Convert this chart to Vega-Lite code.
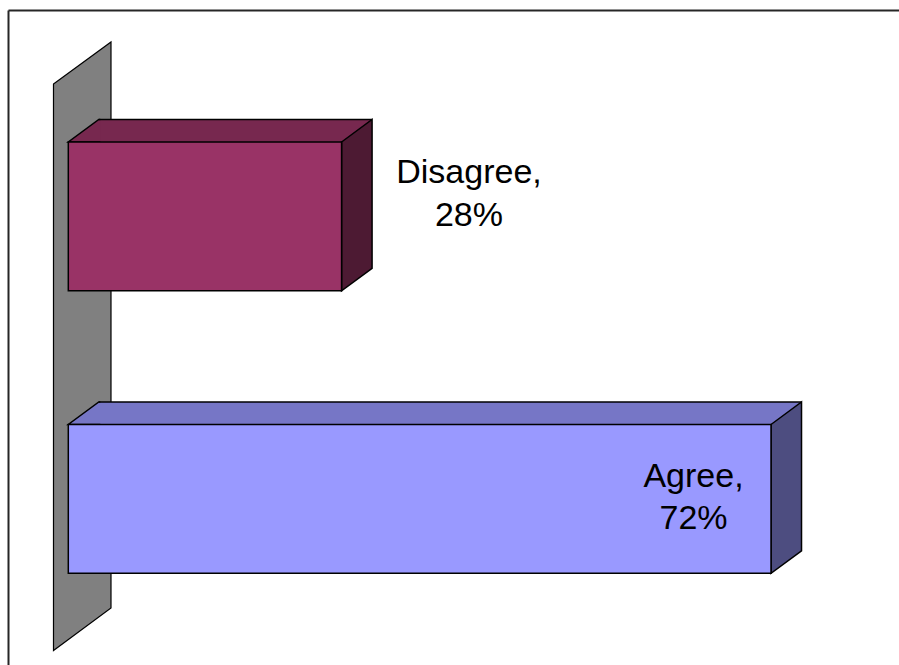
{
  "$schema": "https://vega.github.io/schema/vega-lite/v6.json",
  "width": 891,
  "height": 655,
  "autosize": "none",
  "padding": {"left": 8, "top": 10, "right": 0, "bottom": 0},
  "background": "white",
  "config": {
    "view": {"stroke": null},
    "axis": {"domainColor": "#262626", "domainWidth": 2, "ticks": false, "labels": false, "grid": false}
  },
  "data": {
    "values": [
      {"category": "Disagree", "value": 28, "label": "Disagree,\n28%"},
      {"category": "Agree", "value": 72, "label": "Agree,\n72%"}
    ]
  },
  "encoding": {
    "y": {
      "field": "category",
      "type": "nominal",
      "scale": {"type": "band", "domain": ["Disagree", "Agree"], "paddingInner": 0.4735, "paddingOuter": 0.396, "align": 0.59},
      "axis": {"orient": "left", "title": null}
    },
    "x": {
      "field": "value",
      "type": "quantitative",
      "scale": {"domain": [-6.178, 85.113], "nice": false, "zero": false},
      "axis": {"orient": "top", "title": null}
    }
  },
  "layer": [
    {
      "transform": [{"filter": "datum.category === 'Disagree'"}],
      "mark": {"type": "point", "shape": "M-14.8,-132.4L42.7,-174.4L42.7,391.6L-14.8,434.1Z", "size": 4, "filled": true, "fill": "#808080", "stroke": "#000000", "strokeWidth": 1.2, "opacity": 1},
      "encoding": {
        "x": {"datum": 0, "type": "quantitative", "axis": {"orient": "top", "title": null}}
      }
    },
    {
      "mark": {"type": "rule", "strokeWidth": 22.5, "strokeCap": "butt", "xOffset": 30.5, "x2Offset": 30.5, "yOffset": -85.65},
      "encoding": {
        "x2": {"datum": 0},
        "color": {"condition": {"test": "datum.category === 'Agree'", "value": "#7676C6"}, "value": "#77284F"}
      }
    },
    {
      "mark": {"type": "point", "shape": "M32,-74.4L0,-74.4L30.5,-96.9L32,-96.9", "size": 4, "filled": true, "stroke": "#000000", "strokeWidth": 1.5, "opacity": 1},
      "encoding": {
        "x": {"datum": 0, "type": "quantitative", "axis": {"orient": "top", "title": null}},
        "fill": {"condition": {"test": "datum.category === 'Agree'", "value": "#7676C6"}, "value": "#77284F"}
      }
    },
    {
      "mark": {"type": "rule", "color": "#000000", "strokeWidth": 1.5, "xOffset": 30.5, "x2Offset": 30.5, "yOffset": -96.9},
      "encoding": {"x2": {"datum": 0}}
    },
    {
      "mark": {"type": "point", "shape": "M0,-74.4L30.5,-96.9L30.5,51.9L0,74.4Z", "size": 4, "filled": true, "stroke": "#000000", "strokeWidth": 1.5, "opacity": 1},
      "encoding": {
        "fill": {"condition": {"test": "datum.category === 'Agree'", "value": "#4D4D80"}, "value": "#4D1A33"}
      }
    },
    {
      "mark": {"type": "bar", "stroke": "#000000", "strokeWidth": 1.5},
      "encoding": {
        "fill": {"condition": {"test": "datum.category === 'Agree'", "value": "#9999FF"}, "value": "#993366"}
      }
    },
    {
      "transform": [{"filter": "datum.category === 'Disagree'"}],
      "mark": {"type": "text", "font": "Liberation Sans", "fontSize": 34, "lineBreak": "\n", "lineHeight": 43, "align": "center", "baseline": "alphabetic", "dx": 127.4, "dy": -33.4, "color": "#000000"},
      "encoding": {"text": {"field": "label"}}
    },
    {
      "transform": [{"filter": "datum.category === 'Agree'"}],
      "mark": {"type": "text", "font": "Liberation Sans", "fontSize": 34, "lineBreak": "\n", "lineHeight": 42, "align": "center", "baseline": "alphabetic", "dx": -77.5, "dy": -11.9, "color": "#000000"},
      "encoding": {"text": {"field": "label"}}
    }
  ]
}
